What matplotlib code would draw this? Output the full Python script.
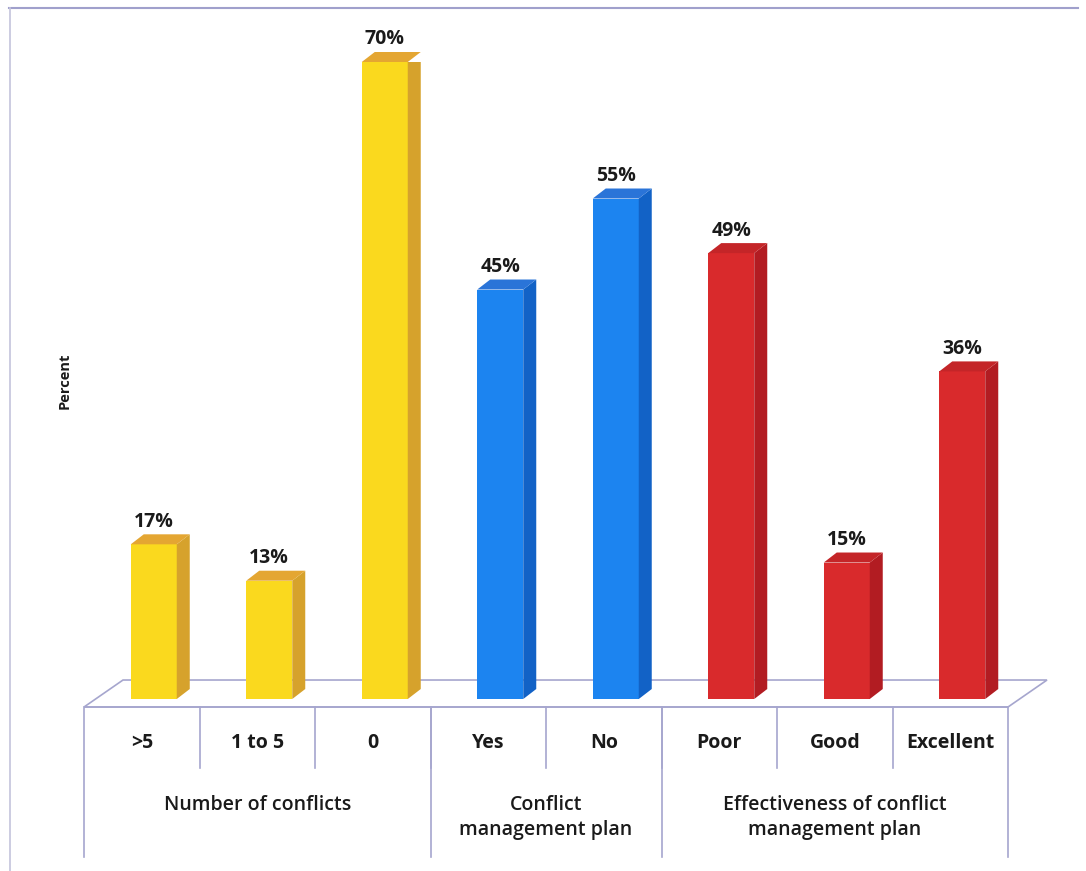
import matplotlib.pyplot as plt
from matplotlib.patches import Polygon
import numpy as np

categories = [">5", "1 to 5", "0", "Yes", "No", "Poor", "Good", "Excellent"]
values = [17, 13, 70, 45, 55, 49, 15, 36]
groups = ["Number of conflicts", "Conflict\nmanagement plan",
          "Effectiveness of conflict\nmanagement plan"]
group_sizes = [3, 2, 3]

# front / side / top shades per group
palettes = [("#FAD91E", "#D6A22C", "#E4A632"),
            ("#1C84F0", "#1262C6", "#2A74D8"),
            ("#D92A2C", "#B21C22", "#C42528")]

plt.rcParams['font.family'] = ['Open Sans', 'DejaVu Sans']

W, H = 1086, 871
fig = plt.figure(figsize=(W / 100, H / 100), dpi=100)
ax = fig.add_axes([84 / W, (H - 857) / H, 924 / W, 795 / H])
ymin = -17.36
ax.set_xlim(-0.5, len(categories) - 0.5)
ax.set_ylim(ymin, 70)
ax.axis('off')

# pixel -> data helpers for the 3d offsets
px_x = 1 / 115.5
px_y = 70 / 637

line_c = "#A6A6CE"
txt_c = "#1a1a1a"

# floor
fl_dx, fl_dy = 39 * px_x, 27 * px_y
f0 = -8 * px_y
n = len(categories)
floor = Polygon([(-0.5, f0), (n - 0.5, f0), (n - 0.5 + fl_dx, f0 + fl_dy),
                 (-0.5 + fl_dx, f0 + fl_dy)], closed=True,
                facecolor="white", edgecolor=line_c, lw=1.2, zorder=1,
                clip_on=False)
ax.add_patch(floor)

# bars
bw = 46 * px_x
off = -11 * px_x
ddx, ddy = 13 * px_x, 10 * px_y
colors = []
for g, s in enumerate(group_sizes):
    colors += [palettes[g]] * s

for i, (v, c) in enumerate(zip(values, colors)):
    x0 = i + off
    x1 = x0 + bw
    front = Polygon([(x0, 0), (x1, 0), (x1, v), (x0, v)], closed=True,
                    facecolor=c[0], edgecolor="none", zorder=3)
    side = Polygon([(x1, 0), (x1 + ddx, ddy), (x1 + ddx, v + ddy), (x1, v)],
                   closed=True, facecolor=c[1], edgecolor="none", zorder=3)
    top = Polygon([(x0, v), (x1, v), (x1 + ddx, v + ddy), (x0 + ddx, v + ddy)],
                  closed=True, facecolor=c[2], edgecolor="none", zorder=3,
                  clip_on=False)
    for p in (front, side, top):
        ax.add_patch(p)
    ax.annotate(f"{v}%", (x0 + bw / 2, v), xytext=(0, 9),
                textcoords="offset points", ha="center", va="bottom",
                fontsize=14, fontweight="bold", color=txt_c,
                annotation_clip=False)

# category table
cell_bot = -69 * px_y
ax.plot([-0.5, n - 0.5], [f0, f0], color=line_c, lw=1.2, zorder=2)
for k in range(1, n):
    ax.plot([k - 0.5, k - 0.5], [f0, cell_bot], color=line_c, lw=1.2)
for i, lab in enumerate(categories):
    ax.text(i, -44 * px_y, lab, ha="center", va="center",
            fontsize=14, fontweight="bold", color=txt_c)

edges = np.concatenate([[0], np.cumsum(group_sizes)]) - 0.5
for e in edges:
    ax.plot([e, e], [f0, ymin], color=line_c, lw=1.2, clip_on=False)
for g, lab in enumerate(groups):
    cx = (edges[g] + edges[g + 1]) / 2
    ax.text(cx, -96 * px_y, lab, ha="center", va="top", fontsize=14,
            fontweight="semibold", color=txt_c, linespacing=1.3)

ax.text(-0.5 - 19 * px_x, 35, "Percent", rotation=90, ha="center",
        va="center", fontsize=10.5, fontweight="bold", color=txt_c)

# outer frame (top and left edges)
fig.add_artist(plt.Line2D([9 / W, 1 - 8 / W], [1 - 8 / H, 1 - 8 / H],
                          color="#A0A0CC", lw=1.5))
fig.add_artist(plt.Line2D([10 / W, 10 / W], [0, 1 - 8 / H],
                          color="#C4C4DC", lw=1.2))

fig.savefig("out.png", dpi=100, facecolor="white")
